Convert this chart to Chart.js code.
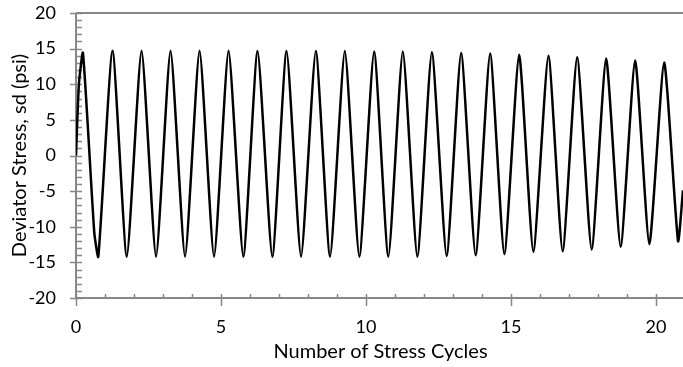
<!DOCTYPE html>
<html>
<head>
<meta charset="utf-8">
<script src="https://cdn.jsdelivr.net/npm/chart.js@4/dist/chart.umd.min.js"></script>
<style>
  html, body { margin: 0; padding: 0; background: #fff; overflow: hidden; }
  #wrap { width: 686px; height: 367px; }
</style>
</head>
<body>
<div id="wrap"><canvas id="chart"></canvas></div>
<script>
// ── Data ──────────────────────────────────────────────
// start of the test: load ramps up from zero
const startCycle  = [0, 0.1]
const startStress = [0, 10]

// peaks, one per cycle
const peakCycle  = [0.24, 1.26, 2.26, 3.26, 4.26, 5.26, 6.26, 7.26, 8.27, 9.27, 10.28,
                    11.27, 12.27, 13.28, 14.28, 15.28, 16.29, 17.28, 18.28, 19.28, 20.28]
const peakStress = [14.4, 14.7, 14.7, 14.7, 14.7, 14.7, 14.65, 14.65, 14.65, 14.65, 14.6,
                    14.6, 14.5, 14.4, 14.3, 14.15, 14.0, 13.8, 13.6, 13.35, 13.05]

// shoulder on the first unloading
const shoulderCycle  = [0.63]
const shoulderStress = [-10.8]

// troughs, one per cycle
const troughCycle  = [0.77, 1.75, 2.76, 3.76, 4.76, 5.77, 6.77, 7.76, 8.76, 9.77, 10.77,
                      11.77, 12.78, 13.78, 14.77, 15.77, 16.78, 17.78, 18.78, 19.77, 20.76]
const troughStress = [-14.2, -14.2, -14.2, -14.2, -14.2, -14.2, -14.2, -14.2, -14.2, -14.2, -14.2,
                      -14.2, -14.1, -14.0, -13.85, -13.5, -13.45, -13.2, -12.8, -12.45, -12.0]

// last reading at the right edge
const endCycle  = [20.93]
const endStress = [-4.9]

const yTicks = [-20, -15, -10, -5, 0, 5, 10, 15, 20]
const xTicks = [0, 5, 10, 15, 20]

// ── Build the point list ──────────────────────────────
function pairs(xs, ys) {
  return xs.map((x, i) => ({ x, y: ys[i] }))
}

const points = [
  ...pairs(startCycle, startStress),
  ...pairs(peakCycle, peakStress),
  ...pairs(shoulderCycle, shoulderStress),
  ...pairs(troughCycle, troughStress),
  ...pairs(endCycle, endStress)
].sort((a, b) => a.x - b.x)

// ── Style ─────────────────────────────────────────────
const AXIS_COLOR = '#878787'
const TICK_FONT  = { family: 'Lato', size: 18 }
const TITLE_FONT = { family: 'Lato', size: 20 }

// Excel-like axes: frame lines plus major (crossing) and minor (inside) ticks
const excelAxes = {
  id: 'excelAxes',
  beforeDatasetsDraw(chart) {
    const { ctx, chartArea: a, scales: { x, y } } = chart
    ctx.save()
    ctx.strokeStyle = AXIS_COLOR
    ctx.lineWidth = 2
    ctx.beginPath()
    ctx.moveTo(a.left, a.top);    ctx.lineTo(a.right, a.top)
    ctx.moveTo(a.left, a.top);    ctx.lineTo(a.left, a.bottom)
    ctx.moveTo(a.left, a.bottom); ctx.lineTo(a.right, a.bottom)
    ctx.stroke()

    ctx.lineWidth = 1.5
    ctx.beginPath()
    for (let v = y.min; v <= y.max; v++) {
      const py = Math.round(y.getPixelForValue(v)) + 0.5
      const major = v % 5 === 0
      ctx.moveTo(a.left - (major ? 6 : 0), py)
      ctx.lineTo(a.left + 6, py)
    }
    for (let v = x.min; v <= x.max; v++) {
      const px = Math.round(x.getPixelForValue(v)) + 0.5
      const major = v % 5 === 0
      ctx.moveTo(px, a.bottom - 4)
      ctx.lineTo(px, a.bottom + (major ? 8 : 0))
    }
    ctx.stroke()
    ctx.restore()
  }
}

new Chart(document.getElementById('chart'), {
  type: 'line',
  data: {
    datasets: [{
      data: points,
      borderColor: '#000',
      borderWidth: 2.5,
      pointRadius: 0,
      tension: 0.18,
      fill: false
    }]
  },
  options: {
    responsive: true,
    maintainAspectRatio: false,
    animation: false,
    layout: { padding: { top: 13, right: 1, left: 0, bottom: 0 } },
    plugins: { legend: { display: false }, tooltip: { enabled: false } },
    scales: {
      x: {
        type: 'linear',
        min: 0,
        max: 21,
        afterBuildTicks: s => { s.ticks = xTicks.map(v => ({ value: v })) },
        afterFit: s => { s.height = 69; s.paddingLeft = 0; s.paddingRight = 0 },
        grid: { display: false, drawTicks: false },
        border: { display: false },
        ticks: { color: '#000', font: TICK_FONT, padding: 18, maxRotation: 0 },
        title: {
          display: true,
          text: 'Number of Stress Cycles',
          color: '#000',
          font: TITLE_FONT,
          padding: { top: 0, bottom: 3 }
        }
      },
      y: {
        min: -20,
        max: 20,
        afterBuildTicks: s => { s.ticks = yTicks.map(v => ({ value: v })) },
        afterFit: s => { s.width = 76; s.paddingTop = 0; s.paddingBottom = 0 },
        grid: { display: false, drawTicks: false },
        border: { display: false },
        ticks: { color: '#000', font: TICK_FONT, padding: 20 },
        title: {
          display: true,
          text: 'Deviator Stress, sd (psi)',
          color: '#000',
          font: TITLE_FONT,
          padding: { top: 8, bottom: 0 }
        }
      }
    }
  },
  plugins: [excelAxes]
})
</script>
</body>
</html>
